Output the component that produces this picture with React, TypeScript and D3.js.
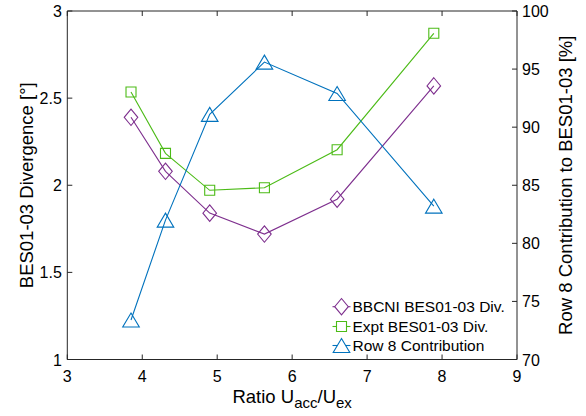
import React from "react";
import * as d3 from "d3";

const ratios = [3.85, 4.31, 4.9, 5.63, 6.6, 7.89];
const bbcniDiv = [2.39, 2.08, 1.84, 1.72, 1.92, 2.57];
const exptDiv = [2.535, 2.183, 1.971, 1.986, 2.204, 2.872];
const row8Contribution = [73.4, 82.0, 91.1, 95.6, 92.9, 83.2];
const xTicks = [3, 4, 5, 6, 7, 8, 9];
const yLeftTicks = [1, 1.5, 2, 2.5, 3];
const yRightTicks = [70, 75, 80, 85, 90, 95, 100];
const legendLabels = ["BBCNI BES01-03 Div.", "Expt BES01-03 Div.", "Row 8 Contribution"];

const W = 586, H = 416;
const L = 67.3, R = 517, T = 11, B = 359.5;
const PURPLE = "#7E2F8E", GREEN = "#4CBB17", BLUE = "#0072BD", AX = "#262626";
const FONT = "'Liberation Sans', Arial, Helvetica, sans-serif";

function diamond(cx: number, cy: number) {
  const hw = 6.8, hh = 8.2;
  return `M${cx},${cy - hh}L${cx + hw},${cy}L${cx},${cy + hh}L${cx - hw},${cy}Z`;
}
function square(cx: number, cy: number) {
  const h = 5;
  return `M${cx - h},${cy - h}H${cx + h}V${cy + h}H${cx - h}Z`;
}
function triangle(cx: number, cy: number) {
  const hw = 8.3, hh = 7;
  return `M${cx},${cy - hh}L${cx + hw},${cy + hh}L${cx - hw},${cy + hh}Z`;
}

export default function App() {
  const x = d3.scaleLinear().domain([3, 9]).range([L, R]);
  const yL = d3.scaleLinear().domain([1, 3]).range([B, T]);
  const yR = d3.scaleLinear().domain([70, 100]).range([B, T]);

  const lineL = d3.line<number>().x((_, i) => x(ratios[i])).y((d) => yL(d));
  const lineR = d3.line<number>().x((_, i) => x(ratios[i])).y((d) => yR(d));

  const series = [
    { vals: bbcniDiv, color: PURPLE, mk: diamond, line: lineL, sc: yL },
    { vals: exptDiv, color: GREEN, mk: square, line: lineL, sc: yL },
    { vals: row8Contribution, color: BLUE, mk: triangle, line: lineR, sc: yR },
  ];

  const tl = 5;
  const legendYs = [306.7, 326.5, 345.5];
  const legendX = 341.5;

  return (
    <svg width={W} height={H} style={{ position: "absolute", left: 0, top: 0, background: "#fff" }} fontFamily={FONT}>
      <rect x={0} y={0} width={W} height={H} fill="#fff" />
      {series.map((s, si) => (
        <g key={si}>
          <path d={s.line(s.vals) || ""} fill="none" stroke={s.color} strokeWidth={1.1} />
          {s.vals.map((v, i) => (
            <path key={i} d={s.mk(x(ratios[i]), s.sc(v))} fill="none" stroke={s.color} strokeWidth={1.1} />
          ))}
        </g>
      ))}
      <g stroke={AX} strokeWidth={1} fill="none">
        <line x1={L} x2={R} y1={B} y2={B} />
        <line x1={L} x2={R} y1={T} y2={T} />
        <line x1={L} x2={L} y1={T} y2={B} />
        <line x1={R} x2={R} y1={T} y2={B} />
        {xTicks.map((t) => (
          <g key={t}>
            <line x1={x(t)} x2={x(t)} y1={B} y2={B - tl} />
            <line x1={x(t)} x2={x(t)} y1={T} y2={T + tl} />
          </g>
        ))}
        {yLeftTicks.map((t) => (
          <line key={t} x1={L} x2={L + tl} y1={yL(t)} y2={yL(t)} />
        ))}
        {yRightTicks.map((t) => (
          <line key={t} x1={R} x2={R - tl} y1={yR(t)} y2={yR(t)} />
        ))}
      </g>
      <g fill="#000" fontSize={16}>
        {xTicks.map((t) => (
          <text key={t} x={x(t)} y={382} textAnchor="middle">{t}</text>
        ))}
        {yLeftTicks.map((t) => (
          <text key={t} x={L - 5.5} y={yL(t) + 6} textAnchor="end">{t}</text>
        ))}
        {yRightTicks.map((t) => (
          <text key={t} x={R + 5} y={yR(t) + 6} textAnchor="start">{t}</text>
        ))}
      </g>
      <text x={(L + R) / 2} y={402.5} textAnchor="middle" fontSize={18.5} fill="#000">
        Ratio U<tspan dy={5} fontSize={15}>acc</tspan><tspan dy={-5}>/U</tspan><tspan dy={5} fontSize={15}>ex</tspan>
      </text>
      <text transform={`translate(32.5,${(T + B) / 2}) rotate(-90)`} textAnchor="middle" fontSize={18.5} fill="#000">
        BES01-03 Divergence [°]
      </text>
      <text transform={`translate(572,${(T + B) / 2}) rotate(-90)`} textAnchor="middle" fontSize={18.5} fill="#000">
        Row 8 Contribution to BES01-03 [%]
      </text>
      {series.map((s, i) => (
        <g key={i}>
          <line x1={legendX - 9} x2={legendX + 9} y1={legendYs[i]} y2={legendYs[i]} stroke={s.color} strokeWidth={1.1} />
          <path d={s.mk(legendX, legendYs[i])} fill="#fff" stroke={s.color} strokeWidth={1.1} />
          <text x={legendX + 11} y={legendYs[i] + 5.5} fontSize={15.5} fill="#000">{legendLabels[i]}</text>
        </g>
      ))}
    </svg>
  );
}
